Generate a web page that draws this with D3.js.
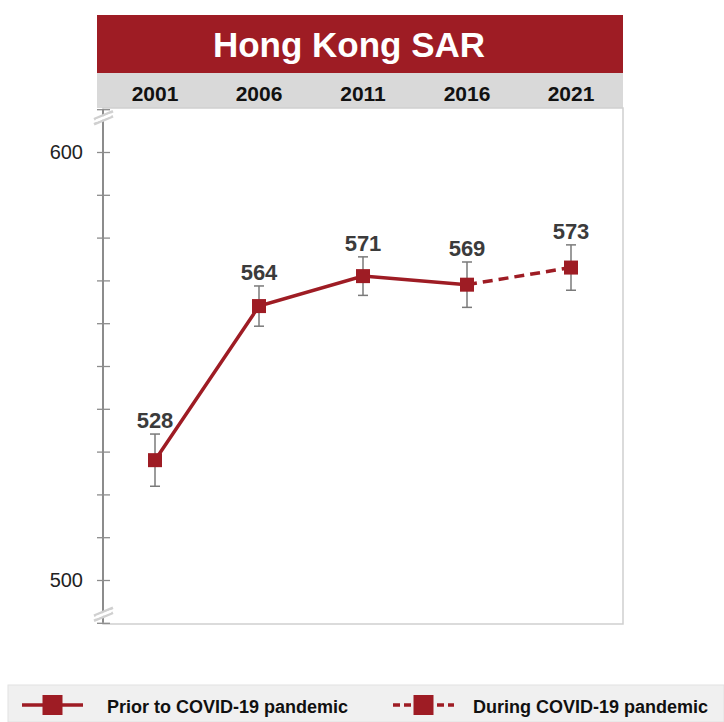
<!DOCTYPE html>
<html>
<head>
<meta charset="utf-8">
<script src="https://cdn.jsdelivr.net/npm/d3@7"></script>
<style>
  body { margin: 0; background: #fff; font-family: "Liberation Sans", Arial, sans-serif; }
</style>
</head>
<body>
<div id="chart"></div>
<script>
var years = ["2001", "2006", "2011", "2016", "2021"],
  scores = [528, 564, 571, 569, 573],
  errors = [6.1, 4.7, 4.5, 5.3, 5.3],
  valueLabels = ["528", "564", "571", "569", "573"],
  yTicks = [500, 600],
  legendLabels = ["Prior to COVID-19 pandemic", "During COVID-19 pandemic"];

var width = 724, height = 722;
var red = "#9e1c24", gray = "#d9d9d9", textColor = "#3b3b3b";

var svg = d3.select("#chart").append("svg")
    .attr("width", width)
    .attr("height", height);

// header boxes
svg.append("rect")
    .attr("x", 97).attr("y", 15)
    .attr("width", 526).attr("height", 58)
    .attr("fill", red);

svg.append("text")
    .attr("x", 349).attr("y", 57)
    .attr("text-anchor", "middle")
    .attr("fill", "#fff")
    .attr("font-size", 35)
    .attr("font-weight", "bold")
    .text("Hong Kong SAR");

svg.append("rect")
    .attr("x", 97).attr("y", 73)
    .attr("width", 526).attr("height", 35)
    .attr("fill", gray);

var x = d3.scalePoint()
    .domain(years)
    .range([155, 571]);

var y = d3.scaleLinear()
    .domain([500, 600])
    .range([580, 152]);

svg.selectAll(".year-label")
    .data(years)
  .enter().append("text")
    .attr("class", "year-label")
    .attr("x", function(d){ return x(d); })
    .attr("y", 101)
    .attr("text-anchor", "middle")
    .attr("font-size", 21)
    .attr("font-weight", "bold")
    .attr("fill", "#111")
    .text(function(d){ return d; });

// plot frame
svg.append("rect")
    .attr("x", 103).attr("y", 108)
    .attr("width", 520).attr("height", 516)
    .attr("fill", "none")
    .attr("stroke", "#cfcfcf")
    .attr("stroke-width", 1.5);

// y axis
var yAxis = d3.axisLeft(y)
    .tickValues(d3.range(490, 611, 10))
    .tickSize(6)
    .tickFormat("");

var axisG = svg.append("g")
    .attr("transform", "translate(103,0)")
    .call(yAxis);

axisG.select(".domain").remove();
axisG.selectAll(".tick line")
    .attr("x2", -6)
    .clone()
    .attr("x2", 7);
axisG.selectAll("line").attr("stroke", "#8c8c8c").attr("stroke-width", 1.3);

axisG.append("line")
    .attr("x1", 0).attr("x2", 0)
    .attr("y1", y(610)).attr("y2", y(490))
    .attr("stroke", "#8c8c8c")
    .attr("stroke-width", 2);

svg.selectAll(".y-label")
    .data(yTicks)
  .enter().append("text")
    .attr("class", "y-label")
    .attr("x", 83)
    .attr("y", function(d){ return y(d) + 7; })
    .attr("text-anchor", "end")
    .attr("font-size", 20)
    .attr("fill", "#222")
    .text(function(d){ return d; });

// axis break marks
[y(608), y(492)].forEach(function(by){
  [-2.5, 2.5].forEach(function(off){
    svg.append("line")
      .attr("x1", 94).attr("x2", 113)
      .attr("y1", by + off + 4).attr("y2", by + off - 4)
      .attr("stroke", "#d0d0d0")
      .attr("stroke-width", 2.5);
  });
  svg.append("line")
    .attr("x1", 96).attr("x2", 111)
    .attr("y1", by + 3).attr("y2", by - 3)
    .attr("stroke", "#fff")
    .attr("stroke-width", 2.5);
});

var data = years.map(function(d, i){
  return {year: d, score: scores[i], err: errors[i], label: valueLabels[i]};
});

// lines
var line = d3.line()
    .x(function(d){ return x(d.year); })
    .y(function(d){ return y(d.score); });

svg.append("path")
    .datum(data.slice(0, 4))
    .attr("d", line)
    .attr("fill", "none")
    .attr("stroke", red)
    .attr("stroke-width", 3.5);

svg.append("path")
    .datum(data.slice(3))
    .attr("d", line)
    .attr("fill", "none")
    .attr("stroke", red)
    .attr("stroke-width", 3.5)
    .attr("stroke-dasharray", "10,6");

// error bars
var eb = svg.selectAll(".err")
    .data(data)
  .enter().append("g")
    .attr("class", "err")
    .attr("stroke", "#7a7a7a")
    .attr("stroke-width", 1.5);

eb.append("line")
    .attr("x1", function(d){ return x(d.year); })
    .attr("x2", function(d){ return x(d.year); })
    .attr("y1", function(d){ return y(d.score + d.err); })
    .attr("y2", function(d){ return y(d.score - d.err); });

[1, -1].forEach(function(s){
  eb.append("line")
    .attr("x1", function(d){ return x(d.year) - 5; })
    .attr("x2", function(d){ return x(d.year) + 5; })
    .attr("y1", function(d){ return y(d.score + s * d.err); })
    .attr("y2", function(d){ return y(d.score + s * d.err); });
});

// markers
svg.selectAll(".marker")
    .data(data)
  .enter().append("rect")
    .attr("class", "marker")
    .attr("x", function(d){ return x(d.year) - 7; })
    .attr("y", function(d){ return y(d.score) - 7; })
    .attr("width", 14)
    .attr("height", 14)
    .attr("fill", red);

// value labels
svg.selectAll(".value-label")
    .data(data)
  .enter().append("text")
    .attr("class", "value-label")
    .attr("x", function(d){ return x(d.year); })
    .attr("y", function(d){ return y(d.score + d.err) - 6; })
    .attr("text-anchor", "middle")
    .attr("font-size", 22)
    .attr("font-weight", "bold")
    .attr("fill", textColor)
    .text(function(d){ return d.label; });

// legend
svg.append("rect")
    .attr("x", 8).attr("y", 685)
    .attr("width", 716).attr("height", 37)
    .attr("fill", "#f0f0f0")
    .attr("stroke", "#e2e2e2");

var legendItems = [
  {x0: 22, x1: 83, tx: 107, dash: null},
  {x0: 393, x1: 454, tx: 473, dash: "7,4"}
];

legendItems.forEach(function(d, i){
  var g = svg.append("g");
  g.append("line")
    .attr("x1", d.x0).attr("x2", d.x1)
    .attr("y1", 705).attr("y2", 705)
    .attr("stroke", red)
    .attr("stroke-width", 3.5)
    .attr("stroke-dasharray", d.dash);
  var cx = (d.x0 + d.x1) / 2;
  g.append("rect")
    .attr("x", cx - 10).attr("y", 695)
    .attr("width", 20).attr("height", 20)
    .attr("fill", red);
  g.append("text")
    .attr("x", d.tx).attr("y", 713)
    .attr("font-size", 18)
    .attr("font-weight", "bold")
    .attr("fill", "#111")
    .text(legendLabels[i]);
});
</script>
</body>
</html>
